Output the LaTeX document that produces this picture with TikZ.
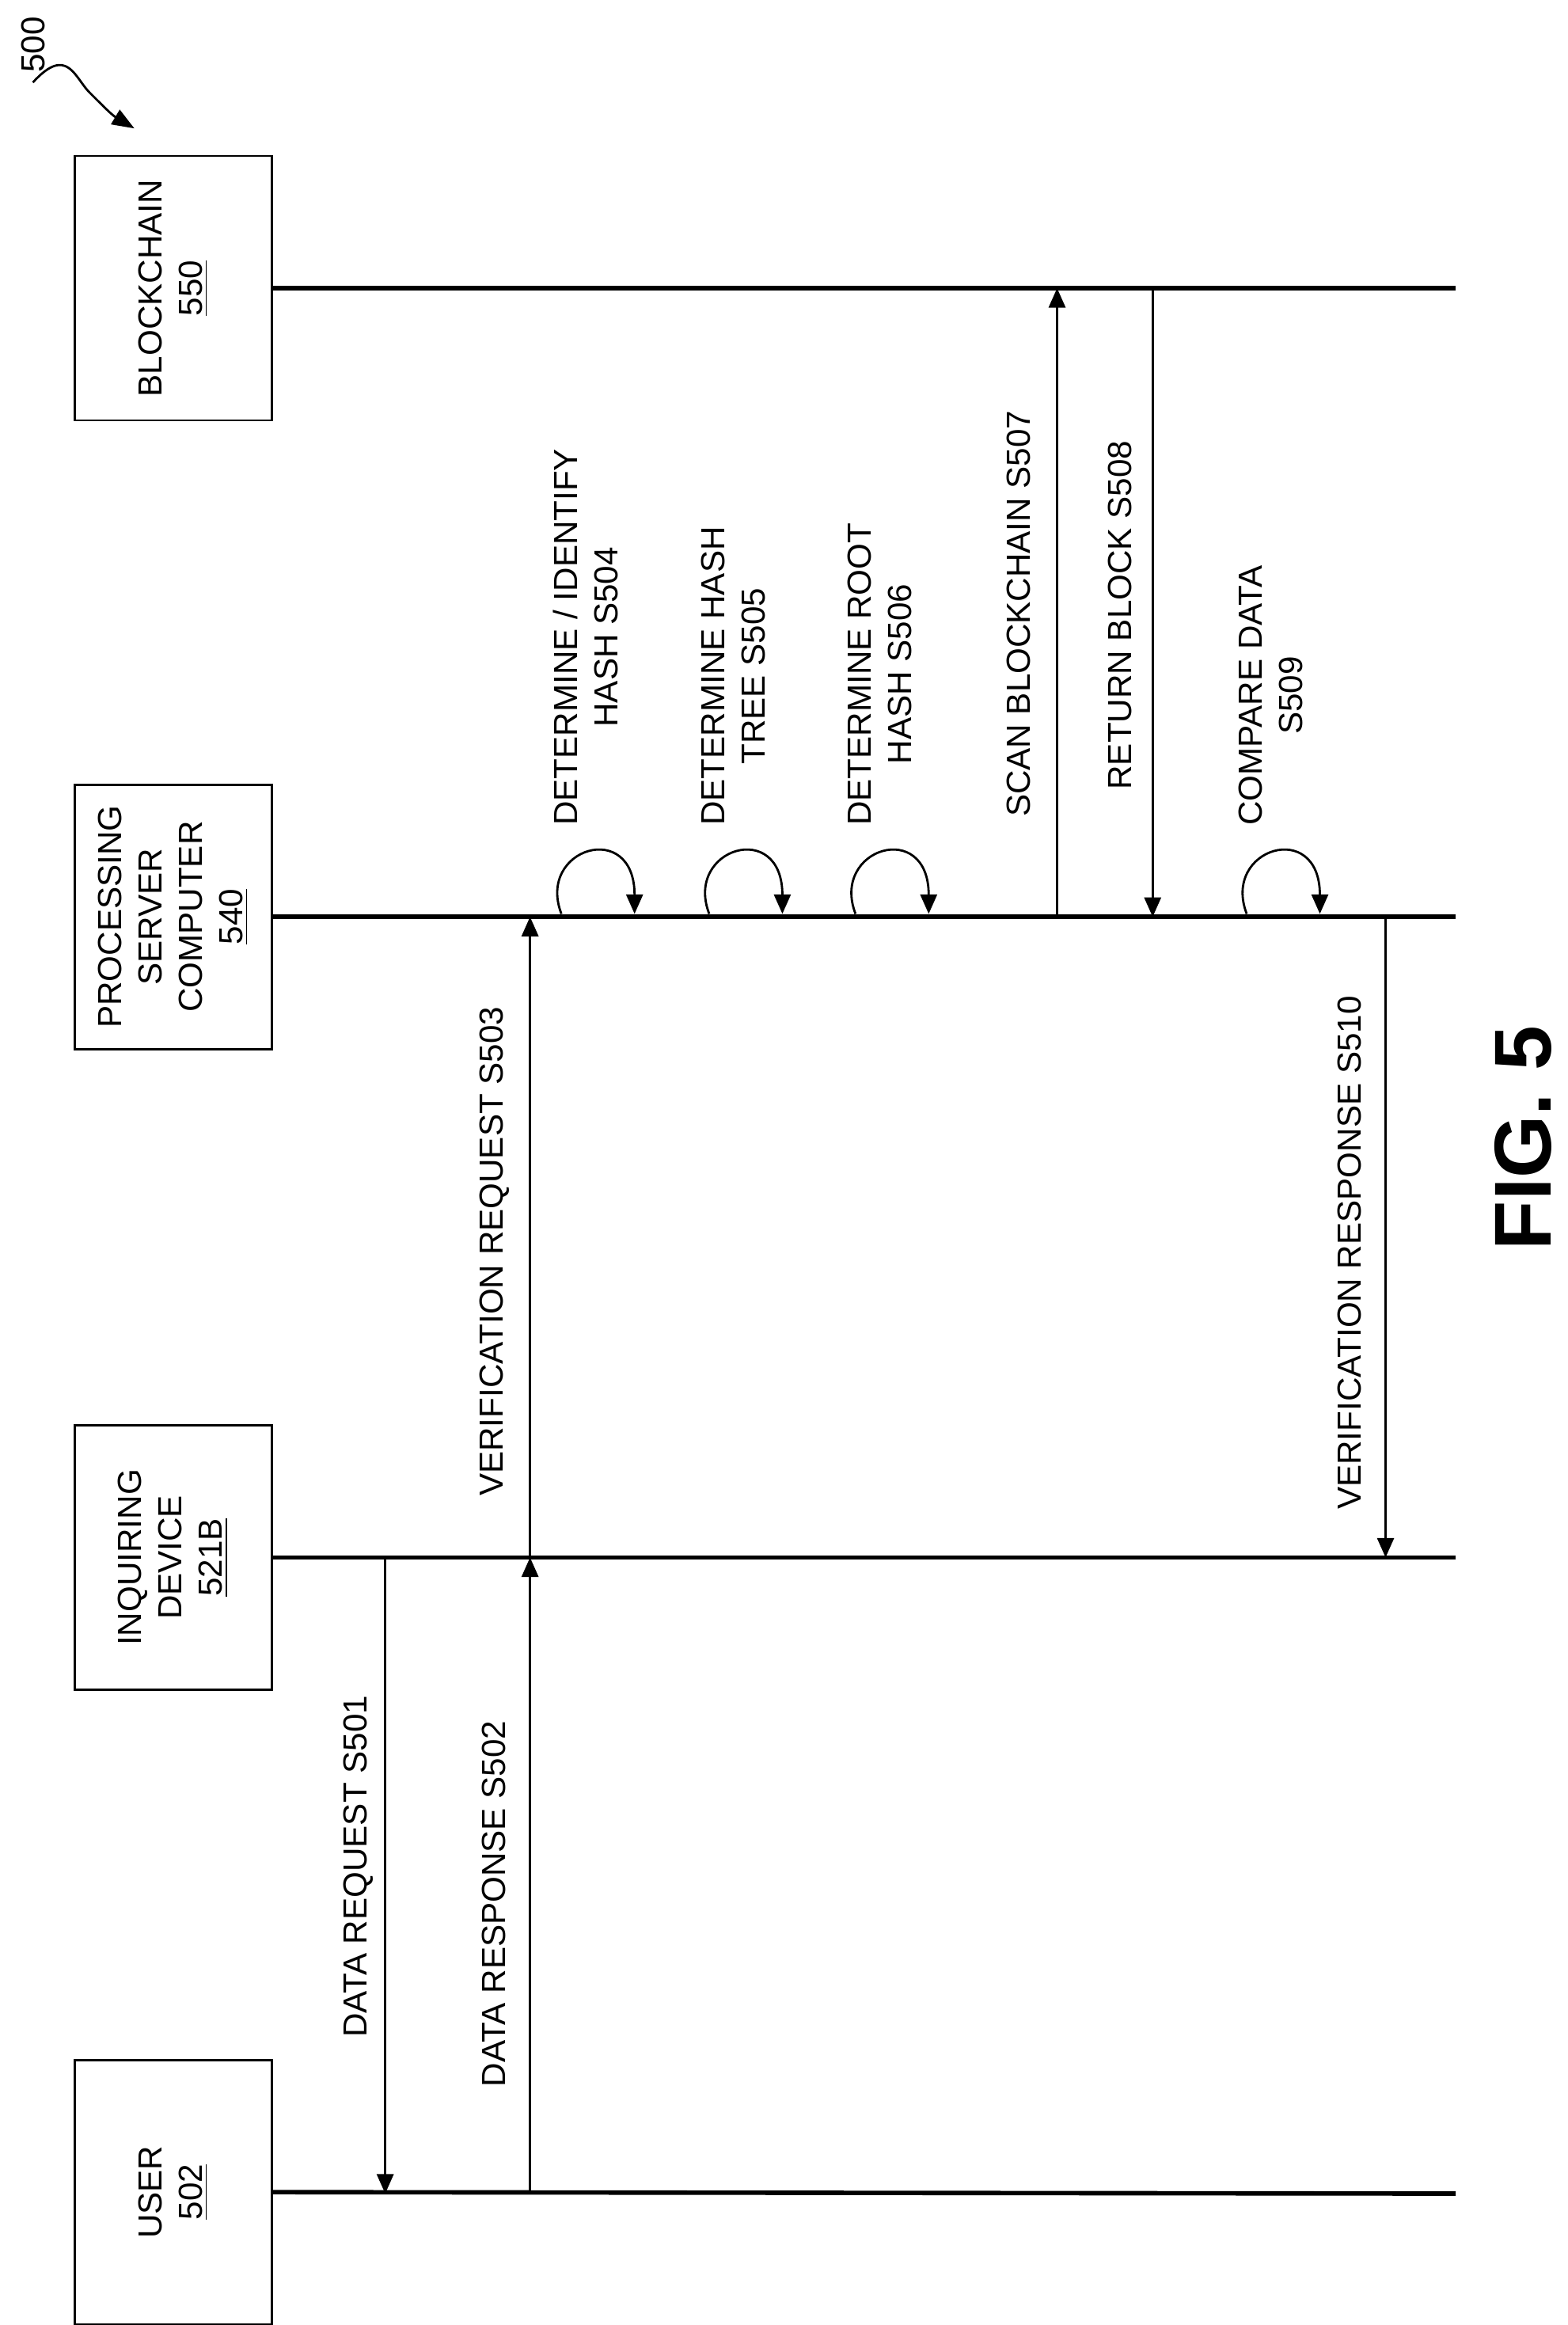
\documentclass[tikz,border=0pt]{standalone}
\usepackage{fontspec}
\setmainfont{Liberation Sans}
\usetikzlibrary{arrows.meta}

\tikzset{
    actor/.style={draw, thick, rotate=90, align=center, minimum width=3.34cm, minimum height=2.49cm, inner sep=2pt},
    life/.style={line width=1.6pt},
    msg/.style={thick, -{Triangle[length=7pt,width=6pt]}},
    lbl/.style={rotate=90, align=center, inner sep=1pt},
}

\begin{document}
\begin{tikzpicture}[x=0.01886cm, y=-0.01886cm, font=\fontsize{12}{14.5}\selectfont]
            \useasboundingbox (0, 0) rectangle (1050, 1557);

            % actors and lifelines
            \node[actor] (chain) at (116, 193){BLOCKCHAIN\\\underline{550}};
            \node[actor] (server) at (116, 614){PROCESSING\\SERVER\\COMPUTER\\\underline{540}};
            \node[actor] (device) at (116, 1043){INQUIRING\\DEVICE\\\underline{521B}};
            \node[actor] (user) at (116, 1468){USER\\\underline{502}};
            \coordinate (chainEnd) at (975, 193);
            \coordinate (serverEnd) at (975, 614);
            \coordinate (deviceEnd) at (975, 1043);
            \coordinate (userEnd) at (975, 1469);
            \draw[life] (chain.south) -- (chainEnd);
            \draw[life] (server.south) -- (serverEnd);
            \draw[life] (device.south) -- (deviceEnd);
            \draw[life] (user.south) -- (userEnd);

            % message ends
            \coordinate (d501) at (258, 1043); \coordinate (u501) at (258, 1469);
            \coordinate (u502) at (355, 1469); \coordinate (d502) at (355, 1043);
            \coordinate (s503) at (355, 614);
            \coordinate (s507) at (708, 614); \coordinate (c507) at (708, 193);
            \coordinate (c508) at (772, 193); \coordinate (s508) at (772, 614);
            \coordinate (s510) at (928, 614); \coordinate (d510) at (928, 1043);

            \draw[msg] (d501) -- (u501);
            \draw[msg] (u502) -- (d502);
            \draw[msg] (d502) -- (s503);
            \draw[msg] (s507) -- (c507);
            \draw[msg] (c508) -- (s508);
            \draw[msg] (s510) -- (d510);

            \node[lbl] (l501) at (240, 1250){DATA REQUEST S501};
            \node[lbl] (l502) at (331, 1275){DATA RESPONSE S502};
            \node[lbl] (l503) at (331, 838){VERIFICATION REQUEST S503};
            \node[lbl] (l507) at (682, 411){SCAN BLOCKCHAIN S507};
            \node[lbl] (l508) at (750, 412){RETURN BLOCK S508};
            \node[lbl] (l510) at (904, 839){VERIFICATION RESPONSE S510};

            % self loops on the server
            \foreach \x/\name/\txt in {373/504/{DETERMINE / IDENTIFY\\HASH S504},
                                       472/505/{DETERMINE HASH\\TREE S505},
                                       570/506/{DETERMINE ROOT\\HASH S506},
                                       832/509/{COMPARE DATA\\S509}} {
                \coordinate (a\name) at (\x+3, 612);
                \coordinate (b\name) at (\x+52, 612);
                \draw[msg] (a\name) .. controls (\x-14, 568) and (\x+52, 548) .. (b\name);
                \node[lbl, anchor=west] (l\name) at (\x+19, 555){\txt};
            }

            % figure label
            \node[rotate=90, font=\fontsize{29}{35}\selectfont\bfseries] (fig) at (1020, 762){FIG. 5};
            \node[rotate=90] (ref) at (22, 30){500};
            \coordinate (refTip) at (90, 86);
            \draw[thick, -{Triangle[length=8pt,width=6pt]}] (ref.west) .. controls (45, 30) and (50, 52) .. (60, 62) .. controls (70, 72) and (75, 77) .. (refTip);
        \end{tikzpicture}
\end{document}
